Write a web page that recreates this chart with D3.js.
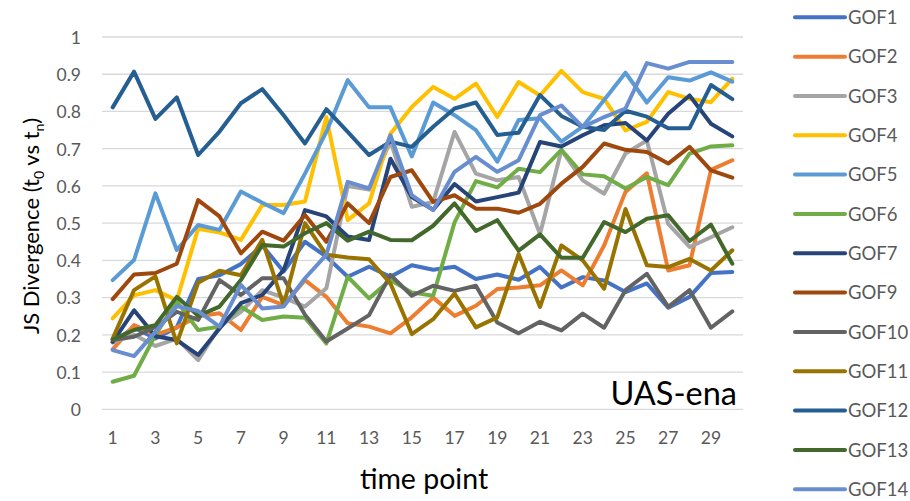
<!DOCTYPE html>
<html>
<head>
<meta charset="utf-8">
<script src="https://cdn.jsdelivr.net/npm/d3@7"></script>
<style>
  html, body { margin: 0; padding: 0; background: #fff; }
  svg { display: block; }
  text { font-family: Lato, "Open Sans", "Liberation Sans", sans-serif; }
</style>
</head>
<body>
<svg id="chart" width="910" height="501"></svg>
<script>
// Time points on the category axis
const timePoints = [1,2,3,4,5,6,7,8,9,10,11,12,13,14,15,16,17,18,19,20,21,22,23,24,25,26,27,28,29,30];
const xTickLabels = [1,3,5,7,9,11,13,15,17,19,21,23,25,27,29];
const yTickValues = [0,0.1,0.2,0.3,0.4,0.5,0.6,0.7,0.8,0.9,1];
const yTickLabels = ["0","0.1","0.2","0.3","0.4","0.5","0.6","0.7","0.8","0.9","1"];

// JS divergence per GOF series
const GOF1  = [0.18,0.22,0.19,0.22,0.35,0.36,0.39,0.44,0.37,0.45,0.41,0.356,0.383,0.356,0.387,0.375,0.383,0.35,0.362,0.348,0.382,0.327,0.355,0.346,0.315,0.338,0.273,0.302,0.366,0.369];
const GOF2  = [0.161,0.226,0.2,0.22,0.25,0.258,0.213,0.302,0.28,0.347,0.302,0.231,0.222,0.204,0.247,0.3,0.251,0.278,0.323,0.327,0.333,0.373,0.333,0.44,0.584,0.634,0.373,0.387,0.643,0.669];
const GOF3  = [0.18,0.2,0.17,0.19,0.132,0.222,0.262,0.32,0.3,0.276,0.325,0.6,0.59,0.72,0.544,0.557,0.745,0.633,0.615,0.624,0.471,0.696,0.615,0.579,0.687,0.722,0.498,0.436,0.462,0.489];
const GOF4  = [0.244,0.306,0.32,0.293,0.485,0.475,0.455,0.549,0.549,0.558,0.785,0.508,0.553,0.74,0.812,0.866,0.834,0.875,0.785,0.879,0.843,0.909,0.852,0.834,0.749,0.772,0.852,0.834,0.825,0.888];
const GOF5  = [0.347,0.401,0.58,0.428,0.495,0.482,0.585,0.555,0.527,0.633,0.745,0.884,0.811,0.811,0.679,0.824,0.79,0.75,0.665,0.777,0.782,0.719,0.759,0.831,0.904,0.824,0.892,0.883,0.905,0.88];
const GOF6  = [0.074,0.09,0.2,0.29,0.213,0.222,0.276,0.24,0.249,0.246,0.177,0.356,0.298,0.347,0.314,0.305,0.502,0.613,0.596,0.646,0.637,0.697,0.631,0.626,0.593,0.624,0.602,0.687,0.706,0.709];
const GOF7  = [0.181,0.266,0.196,0.186,0.146,0.217,0.285,0.307,0.374,0.535,0.518,0.464,0.455,0.673,0.57,0.536,0.605,0.558,0.57,0.582,0.718,0.706,0.736,0.763,0.769,0.722,0.794,0.843,0.767,0.733];
const GOF9  = [0.296,0.362,0.366,0.391,0.562,0.518,0.419,0.477,0.453,0.522,0.45,0.553,0.5,0.624,0.642,0.557,0.575,0.539,0.539,0.528,0.552,0.606,0.651,0.714,0.697,0.691,0.66,0.705,0.642,0.622];
const GOF10 = [0.186,0.195,0.221,0.262,0.24,0.347,0.307,0.352,0.352,0.254,0.182,0.217,0.253,0.361,0.305,0.332,0.318,0.332,0.233,0.204,0.235,0.212,0.257,0.219,0.32,0.364,0.275,0.32,0.219,0.263];
const GOF11 = [0.19,0.32,0.357,0.177,0.34,0.372,0.36,0.455,0.28,0.5,0.415,0.408,0.403,0.338,0.202,0.242,0.311,0.22,0.247,0.417,0.275,0.44,0.4,0.324,0.538,0.387,0.382,0.404,0.373,0.427];
const GOF12 = [0.811,0.907,0.78,0.838,0.683,0.746,0.822,0.86,0.79,0.714,0.806,0.745,0.683,0.719,0.705,0.759,0.808,0.824,0.737,0.743,0.844,0.788,0.759,0.75,0.802,0.786,0.755,0.755,0.871,0.833];
const GOF13 = [0.187,0.213,0.226,0.302,0.251,0.276,0.347,0.441,0.437,0.473,0.5,0.453,0.477,0.455,0.454,0.493,0.553,0.479,0.508,0.426,0.47,0.407,0.407,0.503,0.476,0.512,0.521,0.452,0.496,0.391];
const GOF14 = [0.159,0.143,0.208,0.277,0.264,0.222,0.334,0.271,0.276,0.352,0.415,0.611,0.593,0.736,0.575,0.535,0.638,0.678,0.638,0.669,0.79,0.816,0.758,0.785,0.808,0.93,0.915,0.933,0.933,0.933];

const seriesNames  = ["GOF1","GOF2","GOF3","GOF4","GOF5","GOF6","GOF7","GOF9","GOF10","GOF11","GOF12","GOF13","GOF14"];
const seriesValues = [GOF1,GOF2,GOF3,GOF4,GOF5,GOF6,GOF7,GOF9,GOF10,GOF11,GOF12,GOF13,GOF14];
const seriesColors = ["#4472C4","#ED7D31","#A5A5A5","#FFC000","#5B9BD5","#70AD47","#264478","#9E480E","#636363","#997300","#255E91","#43682B","#698ED0"];

const series = seriesNames.map((name, i) => ({
  name, color: seriesColors[i],
  points: seriesValues[i].map((v, j) => ({ t: timePoints[j], v }))
}));

const svg = d3.select("#chart");
const plot = { left: 102, right: 743, top: 37, bottom: 409.3 };

const x = d3.scaleBand().domain(timePoints).range([plot.left, plot.right]);
const xc = t => x(t) + x.bandwidth() / 2;
const y = d3.scaleLinear().domain([0, 1]).range([plot.bottom, plot.top]);

// Horizontal gridlines
svg.append("g")
  .selectAll("line")
  .data(yTickValues)
  .join("line")
  .attr("x1", plot.left).attr("x2", plot.right)
  .attr("y1", d => y(d)).attr("y2", d => y(d))
  .attr("stroke", "#D9D9D9").attr("stroke-width", 1.3);

// Y axis tick labels
const yAxis = d3.axisLeft(y)
  .tickValues(yTickValues)
  .tickFormat((d, i) => yTickLabels[i])
  .tickSize(0).tickPadding(0);
const yg = svg.append("g").attr("transform", `translate(81,0)`).call(yAxis);
yg.select(".domain").remove();
yg.selectAll("text")
  .attr("fill", "#595959").attr("font-size", 17.5)
  .attr("dy", "0.36em")
  .style("font-family", "Lato, 'Open Sans', sans-serif");

// X axis tick labels (every other time point)
const xAxis = d3.axisBottom(x)
  .tickValues(xTickLabels)
  .tickSize(0).tickPadding(0);
const xg = svg.append("g").attr("transform", `translate(0,432)`).call(xAxis);
xg.select(".domain").remove();
xg.selectAll("text")
  .attr("fill", "#595959").attr("font-size", 17.5)
  .attr("dy", "0.71em")
  .style("font-family", "Lato, 'Open Sans', sans-serif");

// Series lines
const line = d3.line().x(d => xc(d.t)).y(d => y(d.v));
svg.append("g")
  .selectAll("path")
  .data(series)
  .join("path")
  .attr("d", d => line(d.points))
  .attr("fill", "none")
  .attr("stroke", d => d.color)
  .attr("stroke-width", 4)
  .attr("stroke-linejoin", "round")
  .attr("stroke-linecap", "round");

// Panel tag
svg.append("text")
  .attr("x", 737).attr("y", 405)
  .attr("text-anchor", "end")
  .attr("font-size", 32.5)
  .attr("fill", "#000")
  .text("UAS-ena");

// Axis titles
svg.append("text")
  .attr("x", 424).attr("y", 489)
  .attr("text-anchor", "middle")
  .attr("font-size", 28.5)
  .attr("fill", "#000")
  .text("time point");

const yt = svg.append("text")
  .attr("transform", "translate(39,226) rotate(-90)")
  .attr("text-anchor", "middle")
  .attr("font-size", 22)
  .attr("fill", "#000");
yt.append("tspan").text("JS Divergence (t");
yt.append("tspan").attr("font-size", 14).attr("dy", 5).text("0");
yt.append("tspan").attr("dy", -5).text(" vs t");
yt.append("tspan").attr("font-size", 14).attr("dy", 5).text("n");
yt.append("tspan").attr("dy", -5).text(")");

// Legend
const legend = svg.append("g")
  .selectAll("g")
  .data(series)
  .join("g")
  .attr("transform", (d, i) => `translate(795,${17.3 + i * 39.33})`);
legend.append("line")
  .attr("x1", 0).attr("x2", 50)
  .attr("stroke", d => d.color)
  .attr("stroke-width", 4)
  .attr("stroke-linecap", "round");
legend.append("text")
  .attr("x", 53).attr("dy", "0.36em")
  .attr("font-size", 18.5)
  .attr("fill", "#595959")
  .text(d => d.name);
</script>
</body>
</html>
